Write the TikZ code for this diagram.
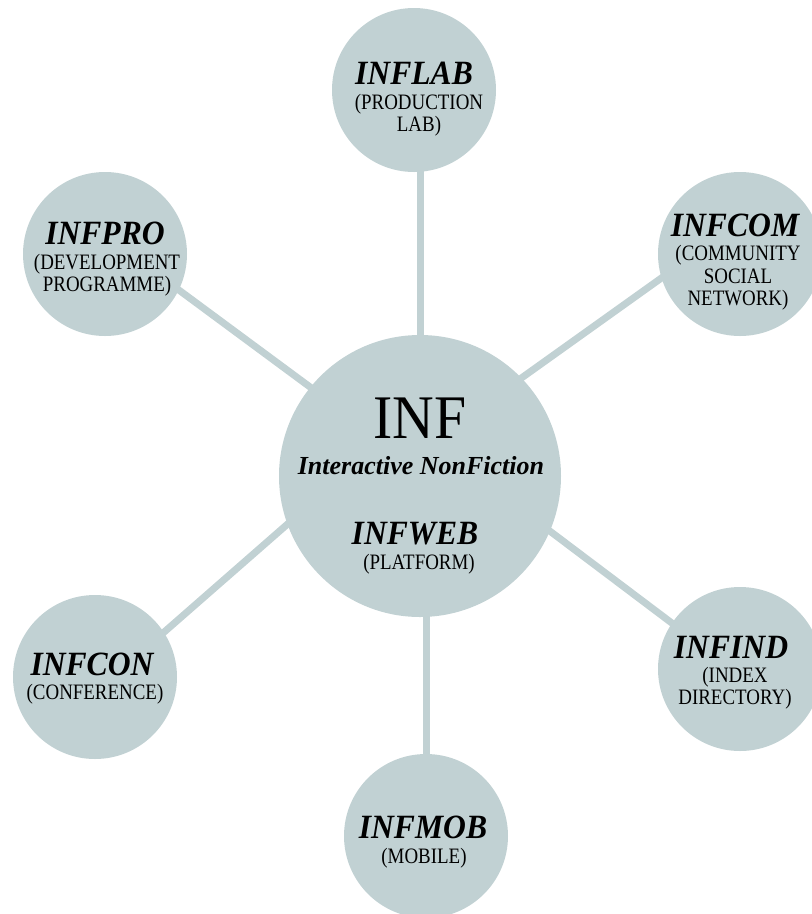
\documentclass[tikz,border=0pt]{standalone}
\usepackage{fontspec}
\setmainfont{Liberation Serif}
\newfontfamily\subfont{Liberation Serif}[FakeStretch=0.86]
\newfontfamily\ttlfont{Liberation Serif}[FakeStretch=0.93]
\definecolor{bub}{HTML}{C1D1D3}
\begin{document}
\begin{tikzpicture}[x=1pt,y=-1pt,
  bub/.style={circle,fill=bub,draw=none,minimum size=164pt,inner sep=0pt},
  link/.style={draw=bub,line width=7pt,shorten <=-6pt,shorten >=-6pt},
  ttl/.style={font=\ttlfont\fontsize{34}{34}\selectfont\bfseries\itshape,inner sep=0pt},
  sub/.style={font=\subfont\fontsize{22}{22.5}\selectfont,align=center,inner sep=0pt}]
\useasboundingbox (0,0) rectangle (812,914);
\clip (0,0) rectangle (812,914);
% circles
\node[bub,minimum size=282pt] (inf) at (420,476) {};
\node[bub] (lab) at (414,90) {};
\node[bub] (pro) at (105,254) {};
\node[bub] (com) at (740,254) {};
\node[bub] (con) at (95,677) {};
\node[bub] (ind) at (740,669) {};
\node[bub] (mob) at (426,836) {};
% connectors
\draw[link] (inf.north) -- (inf.north |- lab.south);
\draw[link] (inf.141) -- (pro.-26);
\draw[link] (inf.44) -- (com.197);
\draw[link] (inf.200) -- (con.33);
\draw[link] (inf.-23) -- (ind.146);
\draw[link] (mob.north |- inf.south) -- (mob.north);
% texts
\node[font=\ttlfont\fontsize{62}{62}\selectfont,inner sep=0pt] (tinf) at (420,418) {INF};
\node[font=\fontsize{26}{26}\selectfont\bfseries\itshape,inner sep=0pt] (tinter) at (421,466) {Interactive NonFiction};
\node[ttl] (tweb) at (415,534) {INFWEB};
\node[sub] (sweb) at (419,564) {(PLATFORM)};
\node[ttl] (tlab) at (414,73) {INFLAB};
\node[sub] (slab) at (419,115) {(PRODUCTION\\LAB)};
\node[ttl] (tpro) at (105,233) {INFPRO};
\node[sub] (spro) at (107,275) {(DEVELOPMENT\\PROGRAMME)};
\node[ttl] (tcom) at (735,225) {INFCOM};
\node[sub] (scom) at (738,278) {(COMMUNITY\\SOCIAL\\NETWORK)};
\node[ttl] (tcon) at (92,664) {INFCON};
\node[sub] (scon) at (95,694) {(CONFERENCE)};
\node[ttl] (tind) at (731,647) {INFIND};
\node[sub] (sind) at (735,688) {(INDEX\\DIRECTORY)};
\node[ttl] (tmob) at (423,827) {INFMOB};
\node[sub] (smob) at (424,858) {(MOBILE)};
\end{tikzpicture}
\end{document}
